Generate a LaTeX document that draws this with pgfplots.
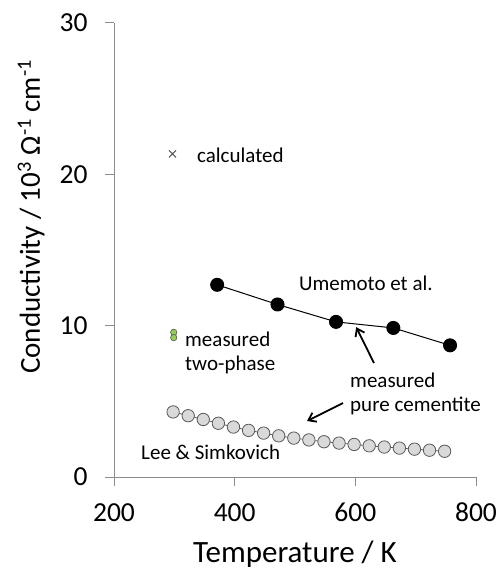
\documentclass[border=0pt]{standalone}
\usepackage{fontspec}
\setmainfont{Carlito}
\usepackage{pgfplots}
\pgfplotsset{compat=1.18}
\usetikzlibrary{arrows.meta}
\definecolor{axgray}{HTML}{8C8C8C}
\definecolor{ptgray}{HTML}{D9D9D9}
\definecolor{ptedge}{HTML}{595959}
\definecolor{grn}{HTML}{92D050}
\begin{document}
\begin{tikzpicture}
\useasboundingbox (0,0) rectangle (501bp,572bp);
\begin{axis}[
  at={(114bp,95bp)}, anchor=south west,
  scale only axis, width=362bp, height=454bp,
  xmin=200, xmax=800, ymin=0, ymax=30,
  xtick={200,400,600,800}, ytick={0,10,20,30},
  axis x line*=bottom, axis y line*=left,
  axis line style={draw=axgray, line width=1bp},
  tick style={draw=axgray, line width=1bp},
  tick align=outside, major tick length=9bp,
  /pgf/number format/assume math mode=true,
  ticklabel style={font=\fontsize{27.5bp}{32bp}\selectfont},
  xticklabel style={anchor=base, yshift=-35bp},
  yticklabel style={anchor=east, xshift=-14bp},
  xlabel={Temperature / K},
  ylabel={Conductivity / 10\textsuperscript{3} Ω\textsuperscript{-1} cm\textsuperscript{-1}},
  every axis x label/.style={at={(axis description cs:0.5,-0.189)}, anchor=base, font=\fontsize{31bp}{36bp}\selectfont},
  every axis y label/.style={at={(axis description cs:-0.229,0.573)}, rotate=90, anchor=center, font=\fontsize{29bp}{34bp}\selectfont},
  clip=false,
]
% Lee & Simkovich
\addplot[ptedge, line width=0.8bp, mark=*, mark size=6.2bp, mark options={fill=ptgray, draw=ptedge, line width=0.8bp}] coordinates {
(298,4.30) (323,4.05) (348,3.80) (373,3.55) (398,3.30) (423,3.08) (448,2.90) (473,2.72) (498,2.57) (523,2.45) (548,2.33) (573,2.24) (598,2.15) (623,2.06) (648,1.98) (673,1.91) (698,1.84) (723,1.77) (748,1.70)
};
% Umemoto et al.
\addplot[black, line width=1bp, mark=*, mark size=6.5bp, mark options={fill=black}] coordinates {
(371,12.70) (471,11.40) (568,10.25) (663,9.85) (757,8.70)
};
% calculated
\addplot[only marks, mark=x, mark size=5bp, mark options={draw=ptedge, line width=1bp}] coordinates {(297,21.35)};
% measured two-phase
\addplot[only marks, mark=*, mark size=3.2bp, mark options={fill=grn, draw=ptedge, line width=0.6bp}] coordinates {(299,9.56) (299,9.21)};
\begin{scope}[every node/.style={font=\fontsize{21bp}{25bp}\selectfont, inner sep=0pt, anchor=base west}]
\node at (axis cs:337.5,20.75) {calculated};
\node at (axis cs:506.6,12.31) {Umemoto et al.};
\node at (axis cs:317.7,8.61) {measured};
\node at (axis cs:317.7,7.02) {two-phase};
\node at (axis cs:591.2,5.93) {measured};
\node at (axis cs:591.2,4.32) {pure cementite};
\node at (axis cs:244.8,1.17) {Lee \& Simkovich};
\end{scope}
\draw[-{Straight Barb[length=7bp,width=10bp]}, line width=1.8bp] (axis cs:630.9,7.53) -- (axis cs:601.5,9.9);
\draw[-{Straight Barb[length=7bp,width=10bp]}, line width=1.8bp] (axis cs:579.6,4.89) -- (axis cs:519.9,3.70);
\end{axis}
\end{tikzpicture}
\end{document}
